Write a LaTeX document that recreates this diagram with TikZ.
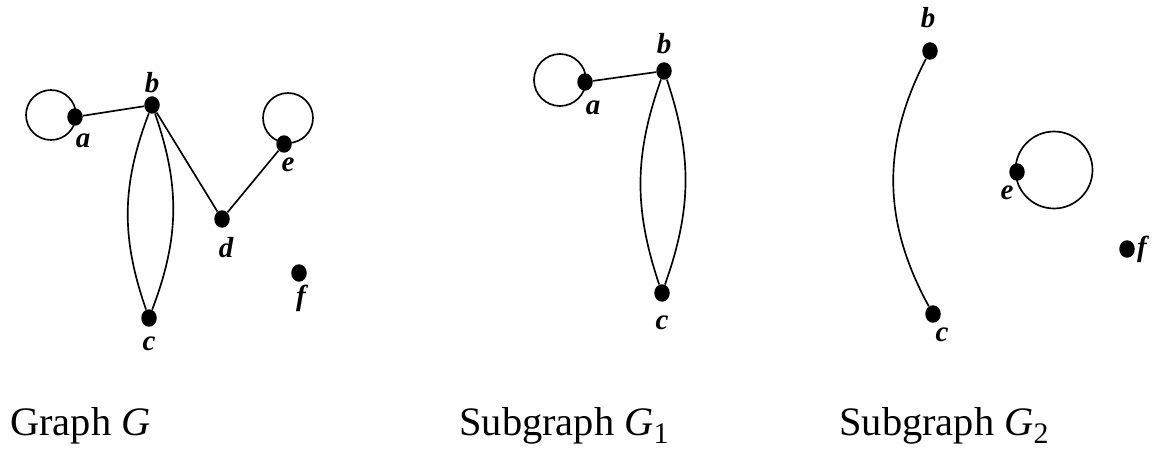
\documentclass[tikz,border=0pt]{standalone}
\usepackage{fontspec}
\setmainfont{Liberation Serif}
\usetikzlibrary{shapes.geometric}
\newcommand{\capsub}[1]{\raisebox{-0.2em}{\fontsize{17}{17}\selectfont #1}}

\begin{document}
\begin{tikzpicture}[
    x=0.02cm, y=-0.02cm,
    vtx/.style={ellipse, fill=black, inner sep=0pt, minimum width=3.1mm, minimum height=3.5mm},
    lbl/.style={font=\fontsize{16.5}{16.5}\selectfont\bfseries\itshape, inner sep=0pt},
    edge/.style={line width=0.95pt},
    captxt/.style={font=\fontsize{23}{26}\selectfont, anchor=base west, inner sep=0pt}
  ]
  \useasboundingbox (0,0) rectangle (1159,449);
  % graph G
  \node[vtx] (a) at (75,117) {};
  \node[vtx] (b) at (152,105) {};
  \node[vtx] (c) at (149,318) {};
  \node[vtx] (d) at (222,219) {};
  \node[vtx] (e) at (284,144) {};
  \node[vtx] (f) at (299,273) {};
  \node[lbl] (la) at (83,141) {a};
  \node[lbl] (lb) at (152,83) {b};
  \node[lbl] (lc) at (149,344) {c};
  \node[lbl] (ld) at (226,248) {d};
  \node[lbl] (le) at (288,165) {e};
  \node[lbl] (lf) at (301,298) {f};
  \draw[edge] (a) -- (b);
  \draw[edge] (b) to[bend left=20] (c);
  \draw[edge] (b) to[bend right=20] (c);
  \draw[edge] (b) -- (d);
  \draw[edge] (d) -- (e);
  \draw[edge] (a.center) ++(-24,-2) circle[radius=0.5cm];
  \draw[edge] (e.center) ++(4,-26) circle[radius=0.5cm];
  % subgraph G1
  \node[vtx] (a1) at (585,82) {};
  \node[vtx] (b1) at (664,71) {};
  \node[vtx] (c1) at (662,293) {};
  \node[lbl] (la1) at (593,108) {a};
  \node[lbl] (lb1) at (664,44) {b};
  \node[lbl] (lc1) at (662,323) {c};
  \draw[edge] (a1) -- (b1);
  \draw[edge] (b1) to[bend left=19] (c1);
  \draw[edge] (b1) to[bend right=19] (c1);
  \draw[edge] (a1.center) ++(-25,-2) circle[radius=0.52cm];
  % subgraph G2
  \node[vtx] (b2) at (930,51) {};
  \node[vtx] (c2) at (933,314) {};
  \node[vtx] (e2) at (1017,172) {};
  \node[vtx] (f2) at (1127,249) {};
  \node[lbl] (lb2) at (928,18) {b};
  \node[lbl] (lc2) at (942,335) {c};
  \node[lbl] (le2) at (1007,193) {e};
  \node[lbl] (lf2) at (1142,249) {f};
  \draw[edge] (b2) to[bend right=28] (c2);
  \draw[edge] (e2.center) ++(37,-2) circle[radius=0.77cm];
  % captions
  \node[captxt] (capG) at (10,435) {Graph \textit{G}};
  \node[captxt] (capG1) at (459,435) {Subgraph \textit{G}\capsub{1}};
  \node[captxt] (capG2) at (839,435) {Subgraph \textit{G}\capsub{2}};
\end{tikzpicture}
\end{document}
